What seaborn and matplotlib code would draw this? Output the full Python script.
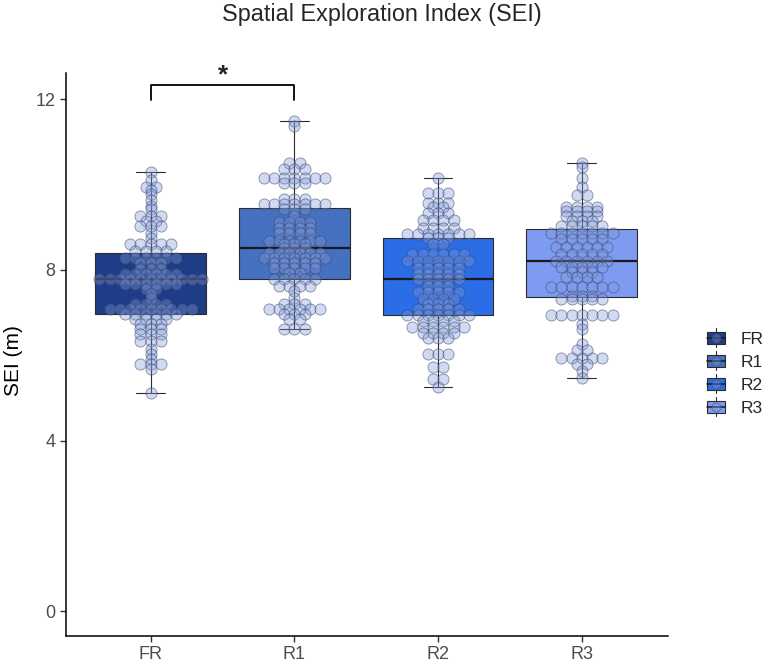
import numpy as np
import pandas as pd
import matplotlib
matplotlib.use("Agg")
import matplotlib.pyplot as plt
import seaborn as sns
from matplotlib.legend_handler import HandlerBase
from matplotlib.patches import Rectangle
from matplotlib.lines import Line2D

# ---------------- data ----------------
groups = ["FR", "R1", "R2", "R3"]
box_colors = ["#1f3d87", "#4571c0", "#2a6de6", "#7e9bf2"]

fr_levels = [10.28, 10.1, 9.95, 9.88, 9.78, 9.64, 9.5, 9.43, 9.26, 9.15,
             9.03, 8.87, 8.75, 8.6, 8.44, 8.28, 8.16, 8.02, 7.9, 7.79,
             7.67, 7.55, 7.44, 7.35, 7.2, 7.09, 6.97, 6.85, 6.74, 6.62,
             6.5, 6.34, 6.15, 6.03, 5.92, 5.8, 5.68, 5.12]
fr_counts = [1, 1, 2, 1, 1, 1, 1, 1, 3, 2,
             3, 1, 1, 5, 4, 6, 3, 3, 6, 11,
             6, 2, 1, 1, 4, 9, 6, 4, 3, 3,
             3, 3, 1, 1, 1, 3, 1, 1]

r1_levels = [11.49, 11.37, 10.51, 10.35, 10.16, 10.04, 9.66, 9.54, 9.43, 9.26,
             9.12, 8.98, 8.87, 8.68, 8.61, 8.51, 8.4, 8.28, 8.16, 8.05,
             7.93, 7.79, 7.63, 7.51, 7.35, 7.2, 7.09, 6.97, 6.85, 6.62]
r1_counts = [1, 1, 2, 3, 7, 3, 3, 7, 3, 1,
             4, 4, 4, 6, 3, 3, 6, 7, 5, 5,
             2, 5, 4, 1, 1, 3, 6, 3, 2, 3]

r2_levels = [10.16, 9.8, 9.57, 9.46, 9.32, 9.17, 8.99, 8.84, 8.75, 8.61,
             8.37, 8.21, 8.05, 7.9, 7.79, 7.63, 7.47, 7.32, 7.2, 7.09,
             6.95, 6.8, 6.67, 6.53, 6.39, 6.03, 5.73, 5.43, 5.26]
r2_counts = [1, 3, 3, 2, 3, 4, 4, 7, 3, 2,
             6, 7, 5, 5, 5, 3, 5, 4, 3, 5,
             7, 4, 6, 4, 3, 3, 2, 2, 1]

r3_levels = [10.51, 10.4, 10.16, 9.93, 9.75, 9.46, 9.38, 9.26, 9.15, 9.03,
             8.87, 8.72, 8.54, 8.37, 8.21, 8.07, 7.94, 7.82, 7.59, 7.39,
             7.32, 6.95, 6.74, 6.62, 6.27, 6.13, 5.94, 5.8, 5.64, 5.47]
r3_counts = [1, 1, 1, 1, 2, 4, 4, 4, 3, 5,
             7, 5, 6, 5, 6, 5, 3, 4, 7, 3,
             5, 7, 1, 1, 1, 2, 5, 2, 1, 1]

y_ticks = [0, 4, 8, 12]
title = "Spatial Exploration Index (SEI)"
y_label = "SEI (m)"
sig_pair = ("FR", "R1")
sig_text = "*"

# ---------------- assemble ----------------
level_sets = {"FR": (fr_levels, fr_counts), "R1": (r1_levels, r1_counts),
              "R2": (r2_levels, r2_counts), "R3": (r3_levels, r3_counts)}
rows = []
for g in groups:
    lv, ct = level_sets[g]
    for v, c in zip(lv, ct):
        for k in range(c):
            rows.append({"group": g, "value": v, "slot": k, "n": c})
df = pd.DataFrame(rows)

# dot-plot stacking (centred stacks per bin)
dot_step = 0.0715
df["xpos"] = df["group"].map({g: i for i, g in enumerate(groups)}) + \
    (df["slot"] - (df["n"] - 1) / 2.0) * dot_step

# ---------------- style ----------------
sns.set_style("ticks")
plt.rcParams["font.family"] = ["Liberation Sans", "DejaVu Sans"]

fig = plt.figure(figsize=(7.7, 6.66), dpi=100)
ax = fig.add_axes([66 / 770, 1 - 636 / 666, (668 - 66) / 770, (636 - 73) / 666])

edge = "#2b2b2b"
sns.boxplot(data=df, x="group", y="value", hue="group", order=groups,
            hue_order=groups, palette=box_colors, saturation=1, width=0.77,
            showfliers=False, linecolor=edge, linewidth=0.8, legend=False,
            medianprops={"linewidth": 1.6, "color": "#1a1a1a"},
            capwidths=0.2, ax=ax)

dot_fc = (0.50, 0.60, 0.85, 0.36)
dot_ec = (0.22, 0.27, 0.42, 0.55)
ax.scatter(df["xpos"], df["value"], s=64, facecolor=dot_fc, edgecolor=dot_ec,
           linewidth=0.65, zorder=4)

ax.set_xlim(-0.59, 3.6)
ax.set_ylim(-0.58, 12.61)
ax.set_yticks(y_ticks)
ax.set_xticks(range(len(groups)))
ax.set_xticklabels(groups)
ax.set_xlabel("")
ax.set_ylabel(y_label, fontsize=15, color="black")
ax.yaxis.set_label_coords(-0.0714, 0.49)
ax.tick_params(axis="both", labelsize=13, labelcolor="#4d4d4d", colors="#333333",
               length=4.5, width=1.0, pad=3)
ax.tick_params(axis="both", labelcolor="#4d4d4d")
for sp in ["top", "right"]:
    ax.spines[sp].set_visible(False)
for sp in ["left", "bottom"]:
    ax.spines[sp].set_linewidth(1.1)
    ax.spines[sp].set_color("black")
ax.grid(False)

# significance bracket
i0, i1 = groups.index(sig_pair[0]), groups.index(sig_pair[1])
ax.plot([i0, i0, i1, i1], [11.97, 12.33, 12.33, 11.97], color="black", lw=1.3,
        clip_on=False, zorder=5)
ax.text((i0 + i1) / 2, 12.55, sig_text, ha="center", va="center", fontsize=19,
        fontweight="bold", clip_on=False)

fig.text(382 / 770, 1 - 15 / 666, title, ha="center", va="center", fontsize=16.8)


class BoxKey(HandlerBase):
    def create_artists(self, legend, orig_handle, xdescent, ydescent, width,
                       height, fontsize, trans):
        fc = orig_handle.get_facecolor()
        x0, y0 = -xdescent, -ydescent
        cx = x0 + width / 2
        arts = [
            Line2D([cx, cx], [y0 - 0.2 * height, y0 + 1.2 * height], color=edge,
                   lw=0.8, transform=trans),
            Rectangle((x0, y0 + 0.05 * height), width, 0.9 * height, facecolor=fc,
                      edgecolor=edge, lw=0.8, transform=trans),
            Line2D([x0, x0 + width], [y0 + height / 2] * 2, color="#1a1a1a",
                   lw=1.1, transform=trans),
            Line2D([cx], [y0 + height / 2], marker="o", ms=6.5, mfc=dot_fc,
                   mec=dot_ec, mew=0.6, linestyle="none", transform=trans),
        ]
        return arts


handles = [Rectangle((0, 0), 1, 1, facecolor=c) for c in box_colors]
fig.legend(handles, groups, handler_map={Rectangle: BoxKey()},
           loc="upper left", bbox_to_anchor=(707 / 770, 1 - 331 / 666),
           frameon=False, fontsize=12.5, handlelength=1.05, handleheight=0.8,
           handletextpad=0.9, labelspacing=0.42, borderpad=0, borderaxespad=0)

fig.savefig("out.png", dpi=100)
